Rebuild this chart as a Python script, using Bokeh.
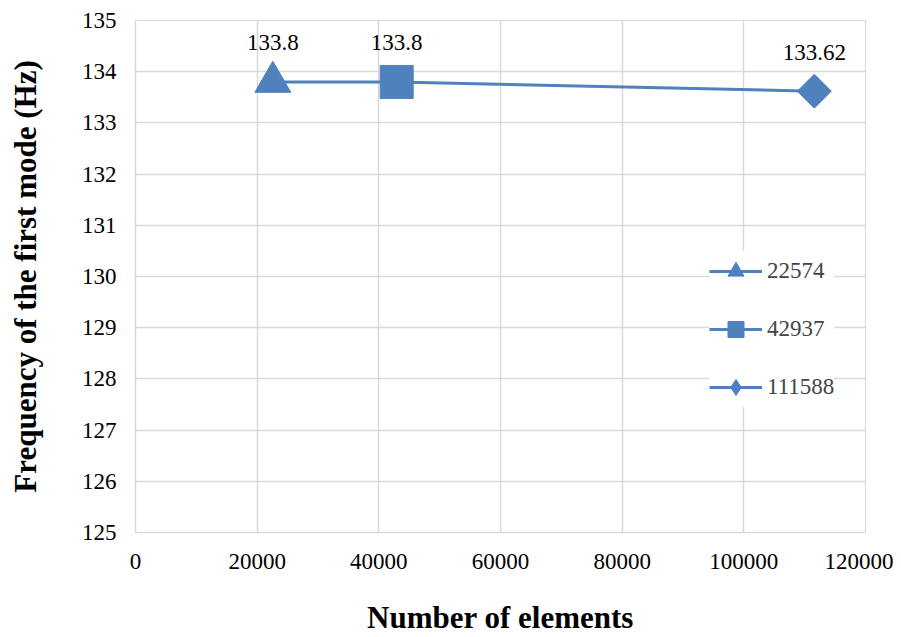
import math
from bokeh.plotting import figure
from bokeh.models import (ColumnDataSource, Range1d, Legend, LegendItem, FixedTicker,
                          LabelSet, NumeralTickFormatter)
from bokeh.embed import file_html
from bokeh.resources import INLINE
from bokeh.core.properties import value

elements = [22574, 42937, 111588]
freqs = [133.8, 133.8, 133.62]
labels = ["133.8", "133.8", "133.62"]
series_names = ["22574", "42937", "111588"]
markers = ["triangle", "square", "square"]
legend_markers = ["triangle", "square", "diamond"]
marker_angles = [0, 0, math.pi / 4]
marker_sizes = [36, 33, 24]
x_ticks = [0, 20000, 40000, 60000, 80000, 100000, 120000]
y_ticks = [125, 126, 127, 128, 129, 130, 131, 132, 133, 134, 135]

BLUE = "#4f81bd"
GRID = "#d9d9d9"
FONT = "Liberation Serif"

p = figure(width=893, height=637, output_backend="svg", toolbar_location=None,
           x_range=Range1d(0, 120000), y_range=Range1d(125, 135),
           min_border_left=135, min_border_top=20, min_border_right=28, min_border_bottom=105)
p.outline_line_color = GRID
p.background_fill_color = "white"

p.xgrid.ticker = FixedTicker(ticks=x_ticks)
p.ygrid.ticker = FixedTicker(ticks=y_ticks)
p.xaxis.ticker = FixedTicker(ticks=x_ticks)
p.yaxis.ticker = FixedTicker(ticks=y_ticks)
p.xaxis.formatter = NumeralTickFormatter(format="0")
p.yaxis.formatter = NumeralTickFormatter(format="0")
for g in (p.xgrid, p.ygrid):
    g.grid_line_color = GRID
    g.grid_line_width = 1.5

for ax in (p.xaxis, p.yaxis):
    ax.axis_line_color = GRID
    ax.axis_line_width = 1.5
    ax.major_tick_line_color = None
    ax.minor_tick_line_color = None
    ax.major_label_text_font = FONT
    ax.major_label_text_font_size = "23px"
    ax.major_label_text_color = "black"
    ax.axis_label_text_font = FONT
    ax.axis_label_text_font_size = "31px"
    ax.axis_label_text_font_style = "bold"
    ax.axis_label_text_color = "black"

p.xaxis.axis_label = "Number of elements"
p.yaxis.axis_label = "Frequency of the first mode (Hz)"
p.xaxis.major_label_standoff = 15
p.yaxis.major_label_standoff = 13
p.xaxis.axis_label_standoff = 28
p.yaxis.axis_label_standoff = 36

src = ColumnDataSource(dict(x=elements, y=freqs, t=labels))
line_r = p.line("x", "y", source=src, line_color=BLUE, line_width=3)

items = []
for i in range(3):
    s = ColumnDataSource(dict(x=[elements[i]], y=[freqs[i]]))
    p.scatter("x", "y", source=s, marker=markers[i], size=marker_sizes[i],
              angle=marker_angles[i], fill_color=BLUE, line_color=BLUE)
    lr = p.scatter("x", "y", source=s, marker=legend_markers[i], size=8,
                   fill_color=BLUE, line_color=BLUE)
    items.append(LegendItem(label=series_names[i], renderers=[line_r, lr]))

lab = LabelSet(x="x", y="y", text="t", source=src, x_offset=0, y_offset=39,
               text_align="center", text_baseline="middle", text_font=value(FONT),
               text_font_size="23px", text_color="black")
p.add_layout(lab)

legend = Legend(items=items, location=(574, 125), orientation="vertical",
                glyph_width=53, glyph_height=40, spacing=18, padding=6,
                label_text_font=FONT, label_text_font_size="23px",
                label_standoff=5, border_line_color=None,
                background_fill_color="white", background_fill_alpha=1.0)
p.add_layout(legend)

open("out.html", "w").write(file_html(p, INLINE))
